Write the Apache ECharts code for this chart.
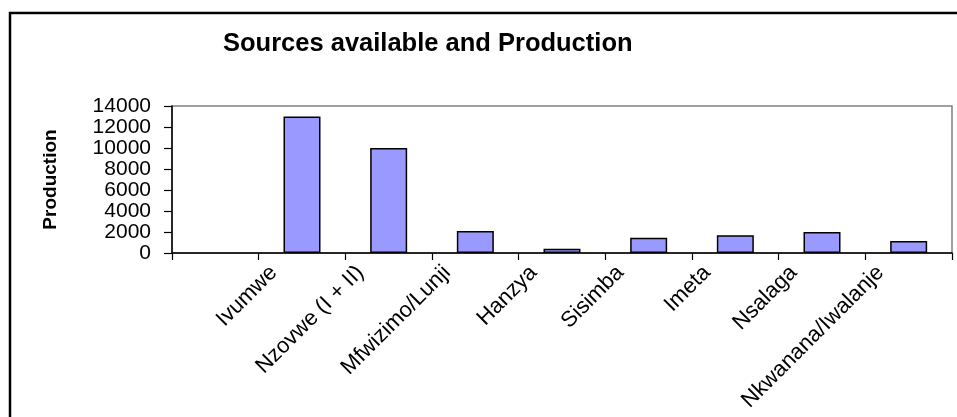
<!DOCTYPE html>
<html>
<head>
<meta charset="utf-8">
<script src="https://cdn.jsdelivr.net/npm/echarts@6/dist/echarts.min.js"></script>
<style>
  html, body { margin: 0; padding: 0; background: #fff; }
  #chart { width: 957px; height: 417px; }
</style>
</head>
<body>
<div id="chart"></div>
<script>
// Water sources and their production; the first slot on the axis is left empty
const categories = ['', 'Ivumwe', 'Nzovwe (I + II)', 'Mfwizimo/Lunji', 'Hanzya', 'Sisimba', 'Imeta', 'Nsalaga', 'Nkwanana/Iwalanje'];
const production = [null, 13000, 10000, 2100, 400, 1450, 1700, 2000, 1150];
const yTicks = { min: 0, max: 14000, step: 2000 };

const chart = echarts.init(document.getElementById('chart'), null, { renderer: 'canvas' });

chart.setOption({
  animation: false,
  backgroundColor: '#ffffff',
  title: {
    text: 'Sources available and Production',
    left: 218,
    top: 26,
    textStyle: { fontFamily: 'Liberation Sans, Arial, sans-serif', fontSize: 25.5, fontWeight: 'bold', color: '#000' }
  },
  graphic: [{
    type: 'rect',
    shape: { x: 10, y: 13, width: 1000, height: 1000 },
    style: { fill: 'none', stroke: '#000', lineWidth: 2.5 },
    silent: true
  }],
  grid: {
    left: 172, right: 5, top: 106, bottom: 164,
    show: true, borderColor: '#808080', borderWidth: 1.5, backgroundColor: '#fff'
  },
  xAxis: {
    type: 'category',
    data: categories,
    boundaryGap: true,
    axisLine: { lineStyle: { color: '#000', width: 1.5 } },
    axisTick: { show: true, length: 7, lineStyle: { color: '#000', width: 1.2 }, interval: 0 },
    axisLabel: {
      interval: 0, rotate: 45, margin: -12,
      fontFamily: 'Liberation Sans, Arial, sans-serif', fontSize: 22, color: '#000',
      padding: [0, 40, 0, 0]
    },
    splitLine: { show: false }
  },
  yAxis: {
    type: 'value',
    min: yTicks.min, max: yTicks.max, interval: yTicks.step,
    name: 'Production',
    nameLocation: 'middle',
    nameGap: 112,
    nameTextStyle: { fontFamily: 'Liberation Sans, Arial, sans-serif', fontSize: 19, fontWeight: 'bold', color: '#000' },
    axisLine: { show: true, lineStyle: { color: '#000', width: 1.5 } },
    axisTick: { show: true, length: 8, lineStyle: { color: '#000', width: 1.2 } },
    axisLabel: {
      margin: 21, fontFamily: 'Liberation Sans, Arial, sans-serif', fontSize: 21, color: '#000',
      formatter: (v) => String(v)
    },
    splitLine: { show: false }
  },
  series: [{
    type: 'bar',
    data: production,
    barWidth: 37,
    itemStyle: { color: '#9999FF', borderColor: '#000', borderWidth: 1.5 }
  }]
});
</script>
</body>
</html>
